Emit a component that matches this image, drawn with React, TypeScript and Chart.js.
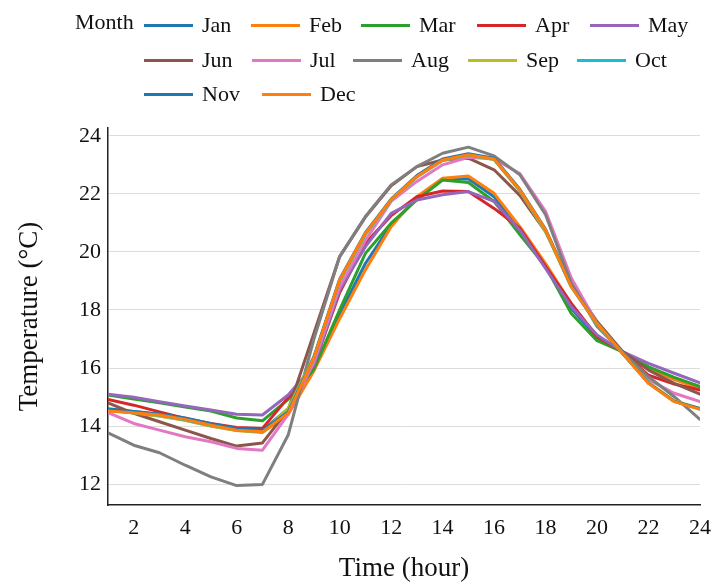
import React, { useEffect, useRef } from "react";
import { Chart, registerables } from "chart.js";

Chart.register(...registerables);

const hours = [1, 2, 3, 4, 5, 6, 7, 8, 9, 10, 11, 12, 13, 14, 15, 16, 17, 18, 19, 20, 21, 22, 23, 24];
const xTickValues = [2, 4, 6, 8, 10, 12, 14, 16, 18, 20, 22, 24];
const yTickValues = [12, 14, 16, 18, 20, 22, 24];

const months = ["Jan", "Feb", "Mar", "Apr", "May", "Jun", "Jul", "Aug", "Sep", "Oct", "Nov", "Dec"];

const jan = [14.6, 14.5, 14.4, 14.25, 14.05, 13.9, 13.85, 14.6, 15.95, 17.85, 19.6, 20.93, 21.85, 22.5, 22.52, 21.9, 20.75, 19.55, 18.05, 17.05, 16.56, 16.02, 15.65, 15.35];
const feb = [14.55, 14.45, 14.35, 14.2, 14.0, 13.85, 13.78, 14.4, 15.9, 17.7, 19.38, 20.87, 21.9, 22.54, 22.62, 22.02, 20.87, 19.6, 18.2, 17.1, 16.56, 16.0, 15.6, 15.3];
const mar = [15.07, 14.93, 14.8, 14.66, 14.52, 14.28, 14.18, 14.92, 15.96, 18.0, 19.95, 20.99, 21.79, 22.48, 22.39, 21.74, 20.6, 19.5, 17.88, 16.94, 16.56, 16.04, 15.68, 15.36];
const apr = [14.92, 14.72, 14.49, 14.26, 14.09, 13.95, 13.92, 14.98, 16.1, 18.6, 20.3, 21.25, 21.9, 22.1, 22.08, 21.5, 20.82, 19.5, 18.23, 17.08, 16.56, 15.75, 15.45, 15.24];
const may = [15.1, 14.99, 14.84, 14.69, 14.55, 14.41, 14.38, 15.07, 16.1, 18.69, 20.18, 21.33, 21.79, 21.97, 22.08, 21.74, 20.75, 19.43, 18.11, 17.14, 16.56, 16.16, 15.82, 15.49];
const jun = [14.8, 14.44, 14.15, 13.86, 13.57, 13.31, 13.42, 14.55, 17.2, 19.84, 21.2, 22.28, 22.94, 23.17, 23.23, 22.83, 21.95, 20.7, 18.92, 17.6, 16.56, 15.93, 15.47, 15.1];
const jul = [14.46, 14.09, 13.86, 13.63, 13.46, 13.23, 13.17, 14.4, 16.2, 18.8, 20.4, 21.74, 22.43, 23.0, 23.26, 23.2, 22.7, 21.4, 19.1, 17.54, 16.5, 15.6, 15.13, 14.84];
const aug = [13.77, 13.34, 13.08, 12.65, 12.25, 11.95, 11.99, 13.69, 17.0, 19.84, 21.22, 22.31, 22.94, 23.4, 23.61, 23.31, 22.66, 21.28, 18.92, 17.43, 16.53, 15.7, 15.01, 14.23];
const sep = [14.55, 14.45, 14.35, 14.2, 14.0, 13.85, 13.8, 14.6, 16.4, 19.0, 20.6, 21.78, 22.58, 23.15, 23.33, 23.18, 22.1, 20.7, 18.8, 17.5, 16.5, 15.5, 14.87, 14.6];
const oct = [14.54, 14.46, 14.37, 14.22, 14.02, 13.86, 13.8, 14.5, 16.38, 19.02, 20.62, 21.79, 22.59, 23.16, 23.34, 23.19, 22.12, 20.74, 18.8, 17.52, 16.5, 15.48, 14.85, 14.59];
const nov = [14.57, 14.5, 14.42, 14.28, 14.08, 13.92, 13.86, 14.48, 16.36, 19.06, 20.66, 21.82, 22.63, 23.2, 23.38, 23.23, 22.16, 20.78, 18.82, 17.55, 16.5, 15.48, 14.85, 14.6];
const dec = [14.52, 14.46, 14.38, 14.23, 14.03, 13.86, 13.8, 14.44, 16.35, 19.04, 20.64, 21.8, 22.6, 23.17, 23.35, 23.2, 22.14, 20.76, 18.8, 17.54, 16.5, 15.47, 14.84, 14.58];

const series = [jan, feb, mar, apr, may, jun, jul, aug, sep, oct, nov, dec];
const colors = ["#1f77b4", "#ff7f0e", "#2ca02c", "#d62728", "#9467bd", "#8c564b", "#e377c2", "#7f7f7f", "#bcbd22", "#17becf", "#1f77b4", "#ff7f0e"];

const FONT = "'Liberation Serif', 'Times New Roman', Times, serif";
const LEGEND_ROWS = [[0, 1, 2, 3, 4], [5, 6, 7, 8, 9], [10, 11]];
const LEGEND_X = [[144, 251, 361, 477, 590], [144, 252, 353, 468, 577], [144, 262]];

export default function App() {
  const canvasRef = useRef<HTMLCanvasElement | null>(null);

  useEffect(() => {
    const canvas = canvasRef.current;
    if (!canvas) return;
    const chart = new Chart(canvas, {
      type: "line",
      data: {
        datasets: months.map((m, i) => ({
          label: m,
          data: hours.map((h, j) => ({ x: h, y: series[i][j] })),
          borderColor: colors[i],
          backgroundColor: colors[i],
          borderWidth: 3,
          pointRadius: 0,
          pointHoverRadius: 0,
          tension: 0,
          fill: false,
          order: -i,
          borderJoinStyle: "round",
          borderCapStyle: "round",
        })),
      },
      options: {
        responsive: false,
        animation: false,
        devicePixelRatio: 1,
        layout: { padding: { top: 128, right: 14, left: 0, bottom: 0 } },
        plugins: { legend: { display: false }, tooltip: { enabled: false } },
        scales: {
          x: {
            type: "linear",
            min: 1,
            max: 24,
            afterBuildTicks: (s: any) => {
              s.ticks = xTickValues.map((v) => ({ value: v }));
            },
            afterFit: (s: any) => {
              s.height = 82;
              s.paddingLeft = 0;
              s.paddingRight = 0;
            },
            grid: { display: false, drawTicks: false },
            border: { display: true, color: "#222", width: 1.5 },
            ticks: {
              font: { family: FONT, size: 22 },
              color: "#111",
              padding: 10,
              maxRotation: 0,
              autoSkip: false,
            },
            title: {
              display: true,
              text: "Time (hour)",
              font: { family: FONT, size: 27 },
              color: "#111",
              padding: { top: 0, bottom: 2 },
            },
          },
          y: {
            type: "linear",
            min: 11.28,
            max: 24.27,
            afterBuildTicks: (s: any) => {
              s.ticks = yTickValues.map((v) => ({ value: v }));
            },
            afterFit: (s: any) => {
              s.width = 108;
              s.paddingTop = 0;
              s.paddingBottom = 0;
            },
            grid: { color: "#dcdcdc", lineWidth: 1, drawTicks: false },
            border: { display: true, color: "#222", width: 1.5 },
            ticks: {
              font: { family: FONT, size: 22 },
              color: "#111",
              padding: 7,
            },
            title: {
              display: true,
              text: "Temperature (°C)",
              font: { family: FONT, size: 27 },
              color: "#111",
              padding: { top: 14, bottom: 0 },
            },
          },
        },
      },
    } as any);
    return () => chart.destroy();
  }, []);

  return (
    <div
      style={{
        position: "fixed",
        left: 0,
        top: 0,
        width: 714,
        height: 587,
        background: "#fff",
        overflow: "hidden",
      }}
    >
      <canvas ref={canvasRef} width={714} height={587} style={{ position: "absolute", left: 0, top: 0 }} />
      <div
        style={{
          position: "absolute",
          left: 75,
          top: 11,
          fontFamily: FONT,
          fontSize: 22,
          lineHeight: "22px",
          color: "#111",
          whiteSpace: "nowrap",
        }}
      >
        Month
      </div>
      {LEGEND_ROWS.map((row, r) =>
        row.map((idx, c) => (
          <div
            key={months[idx]}
            style={{
              position: "absolute",
              left: LEGEND_X[r][c],
              top: 8 + r * 34.7,
              height: 34.7,
              display: "flex",
              alignItems: "center",
              fontFamily: FONT,
              fontSize: 22,
              lineHeight: "34.7px",
              color: "#111",
              whiteSpace: "nowrap",
            }}
          >
            <span
              style={{
                display: "inline-block",
                width: 49,
                height: 3,
                background: colors[idx],
                marginRight: 9,
              }}
            />
            <span>{months[idx]}</span>
          </div>
        ))
      )}
    </div>
  );
}
